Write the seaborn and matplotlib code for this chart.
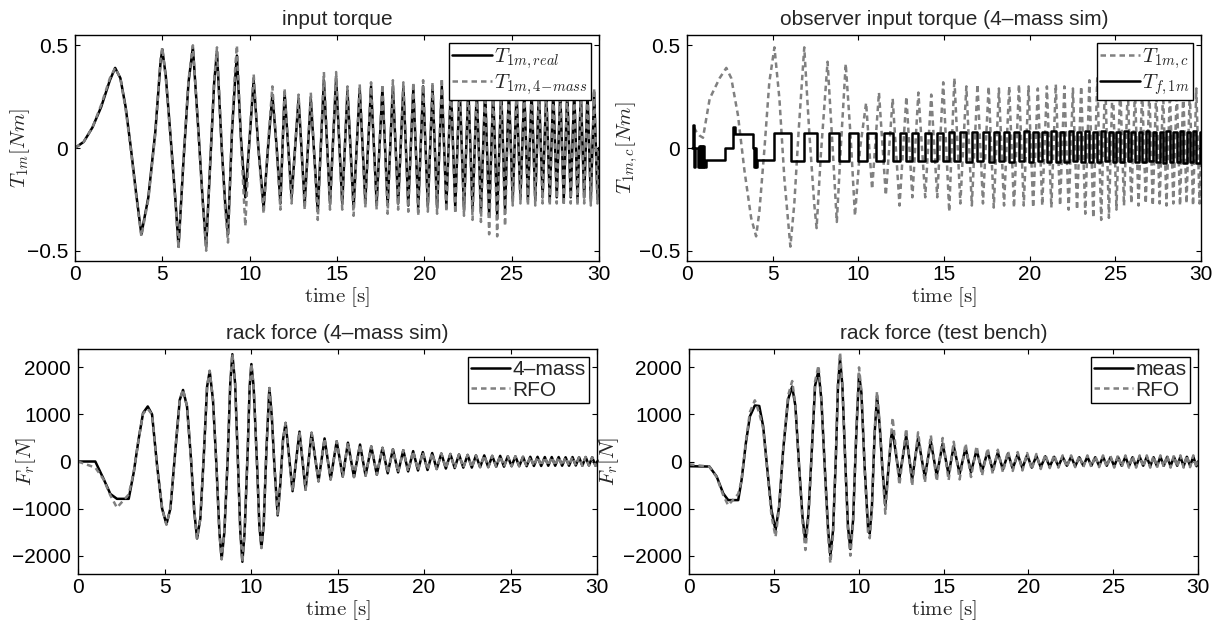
import numpy as np
import matplotlib
matplotlib.use('Agg')
import matplotlib.pyplot as plt
import seaborn as sns

# ---------------- data ----------------
# dense chirp part (t >= 12 s): times of the alternating extrema, shared by all panels
t_dense = [12.0, 12.4, 12.8, 13.15, 13.5, 13.9, 14.25, 14.6, 14.95, 15.3,
           15.6, 15.95, 16.3, 16.62, 16.95, 17.27, 17.6, 17.9, 18.2, 18.5,
           18.8, 19.08, 19.37, 19.65, 19.93, 20.2, 20.47, 20.73, 21.0, 21.26,
           21.52, 21.77, 22.02, 22.27, 22.52, 22.76, 23.0, 23.24, 23.48, 23.71,
           23.94, 24.17, 24.4, 24.62, 24.84, 25.06, 25.28, 25.5, 25.72, 25.93,
           26.14, 26.35, 26.56, 26.77, 26.98, 27.18, 27.38, 27.58, 27.78, 27.98,
           28.18, 28.38, 28.58, 28.77, 28.96, 29.15, 29.34, 29.53, 29.72, 29.91, 30.0]

# input torque (top left)
t_torque_early = [0, 0.5, 1.0, 1.5, 2.0, 2.3, 2.6, 2.9, 3.2, 3.5, 3.8, 4.2, 4.6, 4.9, 5.0,
                  5.2, 5.45, 5.74, 5.93, 6.2, 6.5, 6.75, 7.07, 7.3, 7.51, 7.74, 7.97, 8.13,
                  8.4, 8.6, 8.76, 8.99, 9.18, 9.27, 9.5, 9.75, 10.0, 10.23, 10.5, 10.8,
                  11.05, 11.3, 11.55, 11.76]
torque_real_early = [0, 0.03, 0.1, 0.2, 0.33, 0.39, 0.34, 0.2, 0.0, -0.22, -0.42, -0.24, 0.08,
                     0.42, 0.48, 0.35, 0.08, -0.24, -0.48, -0.08, 0.32, 0.49, 0.08, -0.24,
                     -0.48, -0.08, 0.32, 0.47, 0.0, -0.27, -0.42, 0.08, 0.35, 0.45, 0.05,
                     -0.24, 0.05, 0.33, 0.0, -0.29, 0.0, 0.26, 0.0, -0.27]
torque_4mass_early = [0, 0.03, 0.1, 0.21, 0.34, 0.39, 0.34, 0.19, -0.01, -0.23, -0.43, -0.25,
                      0.07, 0.43, 0.49, 0.34, 0.07, -0.25, -0.49, -0.07, 0.33, 0.5, 0.07,
                      -0.25, -0.5, -0.07, 0.33, 0.49, 0.01, -0.3, -0.46, 0.1, 0.4, 0.5, 0.04,
                      -0.38, 0.06, 0.36, -0.01, -0.32, 0.02, 0.3, -0.01, -0.3]
torque_real_dense = [0.27, -0.24, 0.24, -0.27, 0.24, -0.31, 0.33, -0.27, 0.34, -0.27,
                     0.28, -0.29, 0.29, -0.26, 0.3, -0.27, 0.29, -0.28, 0.3, -0.27,
                     0.3, -0.28, 0.29, -0.29, 0.3, -0.28, 0.29, -0.29, 0.3, -0.28,
                     0.3, -0.29, 0.3, -0.3, 0.29, -0.3, 0.28, -0.31, 0.28, -0.33,
                     0.27, -0.33, 0.28, -0.3, 0.28, -0.25, 0.27, -0.24, 0.28, -0.25,
                     0.27, -0.25, 0.28, -0.24, 0.27, -0.25, 0.28, -0.24, 0.27, -0.25,
                     0.27, -0.24, 0.28, -0.25, 0.27, -0.24, 0.27, -0.25, 0.27, -0.24, 0.0]
torque_4mass_dense = [0.29, -0.27, 0.26, -0.3, 0.27, -0.35, 0.37, -0.3, 0.37, -0.3,
                      0.3, -0.33, 0.31, -0.29, 0.32, -0.3, 0.31, -0.32, 0.33, -0.3,
                      0.32, -0.31, 0.32, -0.33, 0.33, -0.31, 0.32, -0.32, 0.34, -0.31,
                      0.33, -0.32, 0.34, -0.33, 0.32, -0.35, 0.3, -0.36, 0.3, -0.42,
                      0.29, -0.43, 0.3, -0.38, 0.29, -0.28, 0.29, -0.27, 0.3, -0.28,
                      0.29, -0.28, 0.3, -0.27, 0.29, -0.28, 0.29, -0.27, 0.29, -0.28,
                      0.29, -0.27, 0.29, -0.28, 0.29, -0.27, 0.29, -0.28, 0.29, -0.27, 0.0]

# observer input torque (top right)
t_obs_early = [0.4, 0.54, 0.74, 0.93, 1.32, 1.9, 2.29, 2.58, 2.97, 3.35, 3.74, 4.03, 4.22,
               4.52, 4.8, 5.1, 5.39, 5.68, 6.03, 6.26, 6.51, 6.84, 7.13, 7.42, 7.56, 7.81,
               8.2, 8.49, 8.74, 8.97, 9.26, 9.55, 9.8, 10.1, 10.45, 10.8, 11.2, 11.6]
torque_c_early = [0.1, 0.08, 0.06, 0.05, 0.24, 0.34, 0.39, 0.34, 0.16, -0.11, -0.34, -0.43,
                  -0.31, 0.0, 0.32, 0.49, 0.24, -0.15, -0.48, -0.27, 0.08, 0.49, 0.08, -0.27,
                  -0.39, -0.03, 0.42, 0.01, -0.36, 0.0, 0.41, 0.05, -0.33, 0.0, 0.22, -0.2,
                  0.27, -0.23]
torque_c_dense = [0.24, -0.28, 0.25, -0.24, 0.27, -0.24, 0.26, -0.24, 0.32, -0.31,
                  0.34, -0.27, 0.3, -0.28, 0.31, -0.27, 0.3, -0.29, 0.29, -0.28,
                  0.3, -0.29, 0.31, -0.28, 0.3, -0.29, 0.29, -0.28, 0.3, -0.29,
                  0.31, -0.28, 0.3, -0.3, 0.29, -0.3, 0.3, -0.32, 0.33, -0.34,
                  0.34, -0.35, 0.35, -0.34, 0.34, -0.3, 0.31, -0.28, 0.3, -0.27,
                  0.29, -0.28, 0.29, -0.27, 0.28, -0.28, 0.29, -0.27, 0.28, -0.28,
                  0.28, -0.27, 0.29, -0.28, 0.28, -0.27, 0.28, -0.28, 0.29, -0.27, 0.0]
# friction torque: switching instants and the level held after each one
t_fric_early = [0.3, 0.36, 0.42, 0.48, 0.64, 0.7, 0.76, 0.82, 0.88, 0.94, 1.0, 1.08, 2.19,
                2.71, 2.8, 3.84, 3.9, 3.96, 4.02, 4.1, 5.06, 6.07, 6.84, 7.56, 8.26, 8.88,
                9.46, 10.0, 10.52, 11.05, 11.5]
fric_early = [0.0, 0.11, -0.09, 0.0, -0.09, 0.01, -0.09, 0.01, -0.09, 0.01, -0.09, -0.06,
              0.0, 0.1, 0.07, 0.0, -0.09, 0.0, -0.09, -0.06, 0.075, -0.065, 0.075, -0.065,
              0.075, -0.065, 0.075, -0.065, 0.075, -0.065, 0.075]
fric_dense = [-0.065, 0.075, -0.065, 0.075, -0.065, 0.075, -0.065, 0.075, -0.065, 0.08,
              -0.065, 0.08, -0.07, 0.08, -0.065, 0.08, -0.07, 0.08, -0.065, 0.08,
              -0.07, 0.08, -0.065, 0.085, -0.07, 0.08, -0.065, 0.08, -0.07, 0.085,
              -0.07, 0.08, -0.07, 0.085, -0.065, 0.08, -0.07, 0.085, -0.07, 0.08,
              -0.07, 0.085, -0.065, 0.08, -0.07, 0.08, -0.07, 0.085, -0.065, 0.08,
              -0.07, 0.08, -0.07, 0.085, -0.065, 0.08, -0.07, 0.08, -0.075, 0.085,
              -0.07, 0.08, -0.07, 0.085, -0.075, 0.08, -0.07, 0.085, -0.075, 0.08, 0.08]

# rack force, 4-mass simulation (bottom left)
t_rack_early = [0, 1.0, 1.48, 1.87, 2.25, 2.93, 3.22, 3.5, 3.76, 4.03, 4.28, 4.57, 4.86, 5.11,
                5.34, 5.63, 5.88, 6.07, 6.3, 6.53, 6.72, 6.88, 7.07, 7.26, 7.46, 7.61, 7.8,
                8.0, 8.17, 8.3, 8.46, 8.65, 8.8, 8.92, 9.08, 9.25, 9.38, 9.5, 9.63, 9.81,
                9.92, 10.02, 10.15, 10.35, 10.48, 10.6, 10.73, 10.89, 11.06, 11.2, 11.35,
                11.54, 11.7, 11.85]
rack_sim_early = [0, 0, -372, -690, -793, -793, -232, 470, 1030, 1170, 1000, -90, -1000,
                  -1333, -1000, 260, 1310, 1520, 1170, 50, -1070, -1635, -1210, 50, 1590,
                  1920, 1310, -90, -1495, -2070, -1495, 50, 1660, 2280, 1660, -90, -1495,
                  -2130, -1495, 260, 1590, 2070, 1590, -90, -1355, -1830, -1355, 260, 1560,
                  960, -90, -1145, -440, 470]
rack_rfo_sim_early = [0, -130, -380, -720, -980, -700, -232, 470, 1020, 1120, 1000, -90,
                      -1000, -1340, -1000, 260, 1310, 1530, 1170, 50, -1070, -1640, -1210,
                      50, 1590, 1930, 1310, -90, -1495, -2080, -1495, 50, 1660, 2290, 1660,
                      -90, -1495, -2140, -1495, 260, 1590, 2080, 1590, -90, -1355, -1840,
                      -1355, 260, 1560, 970, -90, -1150, -440, 470]
rack_sim_dense = [820, -630, 635, -600, 610, -420, 490, -380, 430, -320,
                  400, -330, 360, -300, 320, -280, 290, -250, 260, -230,
                  240, -210, 220, -190, 200, -180, 180, -160, 170, -150,
                  160, -140, 150, -130, 140, -130, 130, -120, 130, -120,
                  120, -110, 120, -110, 110, -100, 110, -100, 100, -100,
                  100, -95, 100, -95, 95, -90, 95, -90, 95, -90,
                  90, -90, 95, -85, 90, -90, 95, -85, 90, -90, 0]

# rack force, test bench (bottom right)
t_meas_early = [0, 1.2, 1.63, 2.02, 2.31, 2.9, 3.1, 3.35, 3.59, 3.88, 4.14, 4.37, 4.6, 4.86,
                5.1, 5.31, 5.55, 5.84, 6.08, 6.27, 6.49, 6.69, 6.86, 7.04, 7.24, 7.43, 7.63,
                7.8, 8.0, 8.2, 8.33, 8.49, 8.65, 8.78, 8.9, 9.04, 9.22, 9.37, 9.51, 9.67,
                9.86, 10.02, 10.16, 10.35, 10.55, 10.65, 10.78, 10.94, 11.08, 11.24, 11.39,
                11.57, 11.73, 11.92]
rack_meas_early = [-100, -107, -320, -680, -820, -820, -390, 390, 960, 1190, 1180, 750, -107,
                   -1035, -1460, -960, 250, 1320, 1590, 1180, -107, -1180, -1710, -1110, 250,
                   1610, 1930, 1320, -107, -1460, -2000, -1460, 35, 1610, 2180, 1610, -107,
                   -1390, -1860, -1250, 600, 1860, 1460, -107, -1390, -1530, -960, 600, 1390,
                   750, -107, -930, -250, 535]
rack_rfo_bench_early = [-60, -110, -330, -720, -930, -690, -400, 420, 1050, 1300, 1030, 700,
                        -150, -1150, -1600, -1000, 250, 1400, 1710, 1200, -150, -1300, -1880,
                        -1200, 250, 1700, 2040, 1350, -150, -1600, -2160, -1550, 50, 1700,
                        2320, 1650, -150, -1500, -2000, -1300, 650, 2000, 1500, -150, -1500,
                        -1630, -1000, 650, 1490, 800, -150, -1110, -300, 600]
rack_meas_dense = [650, -350, 550, -380, 500, -330, 430, -300, 380, -280,
                   330, -260, 290, -230, 250, -210, 220, -190, 190, -170,
                   170, -150, 150, -140, 140, -130, 120, -120, 110, -110,
                   100, -100, 100, -90, 100, -100, 90, -90, 100, -90,
                   90, -90, 100, -90, 90, -100, 100, -90, 100, -100,
                   90, -100, 100, -90, 100, -100, 90, -100, 100, -90,
                   100, -100, 100, -90, 100, -100, 100, -90, 100, -100, 0]
rack_rfo_bench_dense = [930, -500, 700, -520, 620, -450, 560, -420, 500, -400,
                        420, -380, 380, -330, 330, -300, 280, -260, 250, -230,
                        220, -200, 200, -190, 180, -170, 160, -160, 150, -140,
                        140, -130, 130, -120, 130, -120, 120, -120, 130, -120,
                        120, -120, 130, -120, 120, -130, 130, -120, 130, -130,
                        120, -130, 130, -120, 130, -130, 120, -130, 130, -120,
                        130, -130, 130, -120, 130, -130, 130, -120, 130, -130, 0]

titles = ["input torque", "observer input torque (4\u2013mass sim)",
          "rack force (4\u2013mass sim)", "rack force (test bench)"]

# ---------------- style ----------------
sns.set_style("ticks")
plt.rcParams['font.family'] = ['Liberation Sans', 'DejaVu Sans']
plt.rcParams['mathtext.fontset'] = 'cm'
plt.rcParams['axes.linewidth'] = 1.0
plt.rcParams['axes.edgecolor'] = 'black'
plt.rcParams['xtick.direction'] = 'in'
plt.rcParams['ytick.direction'] = 'in'
plt.rcParams['xtick.top'] = True
plt.rcParams['ytick.right'] = True
plt.rcParams['xtick.major.size'] = 3.5
plt.rcParams['ytick.major.size'] = 3.5
plt.rcParams['xtick.color'] = 'black'
plt.rcParams['ytick.color'] = 'black'
plt.rcParams['xtick.labelsize'] = 15
plt.rcParams['ytick.labelsize'] = 15
plt.rcParams['xtick.major.pad'] = 3
plt.rcParams['ytick.major.pad'] = 5

GRAY = '#808080'
DASH = (0, (2.2, 1.6))
LW = 1.8

fig = plt.figure(figsize=(12.21, 6.3), dpi=100)
ax_tl = fig.add_axes([0.0614, 0.5857, 0.4292, 0.3587])
ax_tr = fig.add_axes([0.5627, 0.5857, 0.4210, 0.3587])
ax_bl = fig.add_axes([0.0639, 0.0889, 0.4251, 0.3571])
ax_br = fig.add_axes([0.5643, 0.0889, 0.4169, 0.3571])


def curve(ax, t, v, color, label, dashed=False, **kw):
    style = DASH if dashed else '-'
    sns.lineplot(x=np.asarray(t, float), y=np.asarray(v, float), ax=ax, color=color,
                 linewidth=LW, linestyle=style, label=label, estimator=None,
                 sort=False, **kw)


# top left
curve(ax_tl, t_torque_early + t_dense, torque_real_early + torque_real_dense,
      'black', r'$T_{1m,real}$')
curve(ax_tl, t_torque_early + t_dense, torque_4mass_early + torque_4mass_dense,
      GRAY, r'$T_{1m,4\!-\!mass}$', dashed=True)

# top right
curve(ax_tr, t_obs_early + t_dense, torque_c_early + torque_c_dense,
      GRAY, r'$T_{1m,c}$', dashed=True)
curve(ax_tr, t_fric_early + t_dense, fric_early + fric_dense,
      'black', r'$T_{f,1m}$', drawstyle='steps-post')

# bottom left
curve(ax_bl, t_rack_early + t_dense, rack_sim_early + rack_sim_dense,
      'black', "4\u2013mass")
curve(ax_bl, t_rack_early + t_dense, rack_rfo_sim_early + rack_sim_dense,
      GRAY, "RFO", dashed=True)

# bottom right
curve(ax_br, t_meas_early + t_dense, rack_meas_early + rack_meas_dense,
      'black', "meas")
curve(ax_br, t_meas_early + t_dense, rack_rfo_bench_early + rack_rfo_bench_dense,
      GRAY, "RFO", dashed=True)

for ax, title in zip([ax_tl, ax_tr, ax_bl, ax_br], titles):
    ax.set_xlim(0, 30)
    ax.set_xticks([0, 5, 10, 15, 20, 25, 30])
    ax.set_title(title, fontsize=15, pad=7)
    ax.set_xlabel(r'$\mathrm{time}\ [\mathrm{s}]$', fontsize=15, labelpad=1)
    for s in ax.spines.values():
        s.set_visible(True)

for ax in [ax_tl, ax_tr]:
    ax.set_ylim(-0.55, 0.55)
    ax.set_yticks([-0.5, 0, 0.5])
    ax.set_yticklabels(['\u22120.5', '0', '0.5'])
ax_tl.set_ylabel(r'$T_{1m}[Nm]$', fontsize=15)
ax_tr.set_ylabel(r'$T_{1m,c}[Nm]$', fontsize=15)

for ax in [ax_bl, ax_br]:
    ax.set_ylim(-2390, 2390)
    ax.set_yticks([-2000, -1000, 0, 1000, 2000])
    ax.set_ylabel(r'$F_r[N]$', fontsize=15)

# y labels sit in the gap between the tick labels, as in the reference
ax_tl.yaxis.set_label_coords(-0.082, 0.5)
ax_tr.yaxis.set_label_coords(-0.091, 0.5)
ax_bl.yaxis.set_label_coords(-0.077, 0.5)
ax_br.yaxis.set_label_coords(-0.134, 0.5)

leg_kw = dict(loc='upper right', frameon=True, fancybox=False, edgecolor='black',
              framealpha=1, borderpad=0.15, labelspacing=0.05, handlelength=1.9,
              handletextpad=0.1, borderaxespad=0.4)
for ax in [ax_tl, ax_tr, ax_bl, ax_br]:
    ax.legend(fontsize=15, **leg_kw)
    ax.get_legend().get_frame().set_linewidth(1.0)

fig.savefig('out.png', dpi=100)
plt.close(fig)
